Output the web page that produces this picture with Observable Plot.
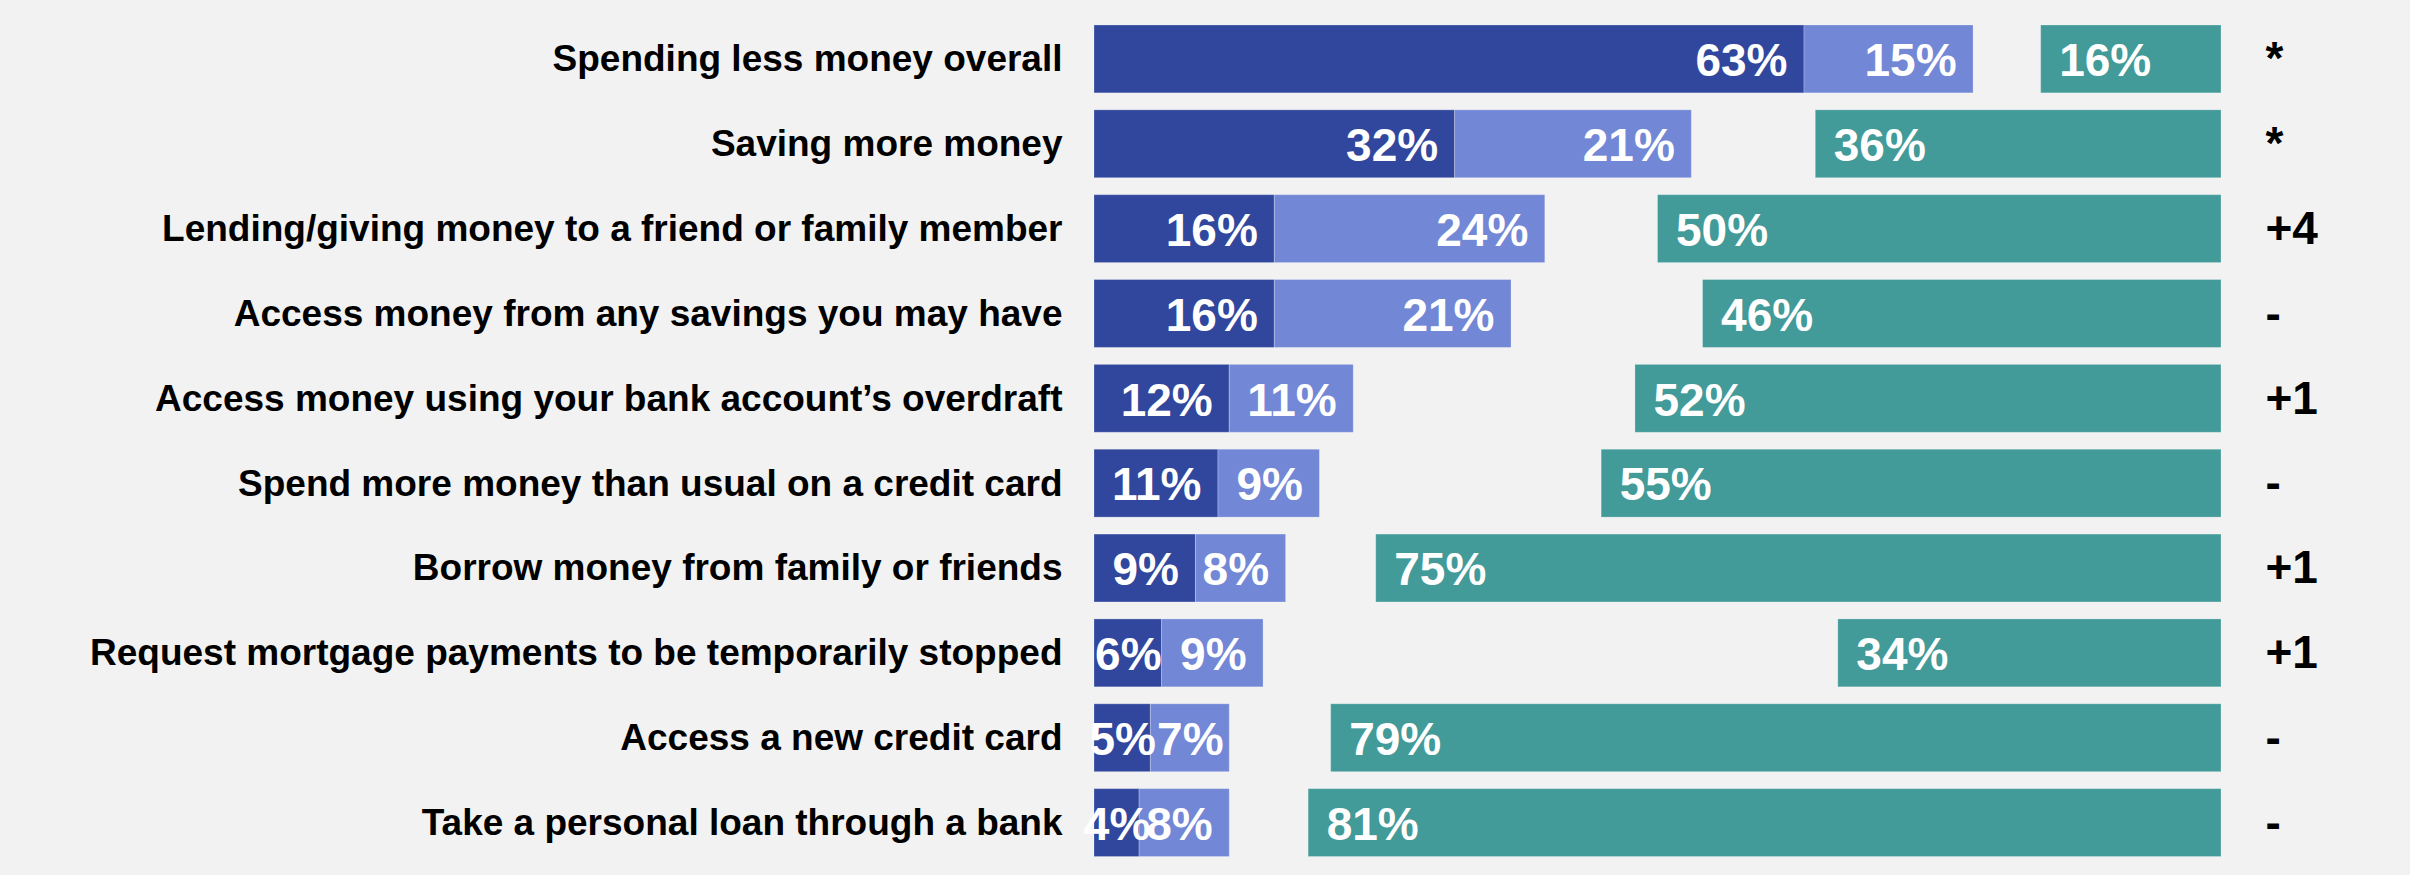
<!DOCTYPE html>
<html>
<head>
<meta charset="utf-8">
<script src="https://cdn.jsdelivr.net/npm/d3@7"></script>
<script src="https://cdn.jsdelivr.net/npm/@observablehq/plot@0.6"></script>
<style>
  html, body { margin: 0; padding: 0; background: #f2f2f2; }
  #chart svg { display: block; }
</style>
</head>
<body>
<div id="chart"></div>
<script>
const categories = [
  "Spending less money overall",
  "Saving more money",
  "Lending/giving money to a friend or family member",
  "Access money from any savings you may have",
  "Access money using your bank account\u2019s overdraft",
  "Spend more money than usual on a credit card",
  "Borrow money from family or friends",
  "Request mortgage payments to be temporarily stopped",
  "Access a new credit card",
  "Take a personal loan through a bank"
];
const darkValues  = [63, 32, 16, 16, 12, 11, 9, 6, 5, 4];
const lightValues = [15, 21, 24, 21, 11, 9, 8, 9, 7, 8];
const tealValues  = [16, 36, 50, 46, 52, 55, 75, 34, 79, 81];
const changeLabels = ["*", "*", "+4", "-", "+1", "-", "+1", "+1", "-", "-"];

const colors = {dark: "#31479d", light: "#7287d5", teal: "#429a99"};

const rows = [];
categories.forEach((cat, i) => {
  const d = darkValues[i], l = lightValues[i], t = tealValues[i];
  rows.push({cat, series: "dark", x1: 0, x2: d, value: d});
  rows.push({cat, series: "light", x1: d, x2: d + l, value: l});
  rows.push({cat, series: "teal", x1: 100 - t, x2: 100, value: t});
});
const changes = categories.map((cat, i) => ({cat, label: changeLabels[i]}));

const leftRows = rows.filter(r => r.series !== "teal");
const fitRows = leftRows.filter(r => r.value >= 8);
const smallRows = leftRows.filter(r => r.value < 8);
const tealRows = rows.filter(r => r.series === "teal");

const font = "'Liberation Sans', Arial, Helvetica, sans-serif";
const pct = r => r.value + "%";

const chart = Plot.plot({
  width: 2410,
  height: 875,
  marginLeft: 1094,
  marginRight: 189,
  marginTop: 16.5,
  marginBottom: 10,
  style: {background: "#f2f2f2", fontFamily: font},
  x: {domain: [0, 100], axis: null},
  y: {domain: categories, paddingInner: 0.2, paddingOuter: 0.1, round: false, label: null},
  marks: [
    Plot.barX(rows, {
      x1: "x1", x2: "x2", y: "cat",
      fill: r => colors[r.series],
      stroke: "#ffffff", strokeOpacity: 0.25, strokeWidth: 1
    }),
    Plot.text(fitRows, {
      x: "x2", y: "cat", text: pct, textAnchor: "end", dx: -17, dy: 2,
      fill: "white", fontSize: 46, fontWeight: "bold", fontFamily: font
    }),
    Plot.text(smallRows, {
      x: r => (r.x1 + r.x2) / 2, y: "cat", text: pct, textAnchor: "middle", dy: 2,
      fill: "white", fontSize: 46, fontWeight: "bold", fontFamily: font
    }),
    Plot.text(tealRows, {
      x: "x1", y: "cat", text: pct, textAnchor: "start", dx: 18, dy: 2,
      fill: "white", fontSize: 46, fontWeight: "bold", fontFamily: font
    }),
    Plot.text(changes, {
      x: () => 100, y: "cat", text: "label", textAnchor: "start", dx: 44,
      fill: "black", fontSize: 46, fontWeight: "bold", fontFamily: font
    }),
    Plot.axisY({
      tickSize: 0, tickPadding: 32, fontSize: 37, fontWeight: "bold",
      fill: "black", fontFamily: font, label: null
    })
  ]
});
document.getElementById("chart").appendChild(chart);
</script>
</body>
</html>
